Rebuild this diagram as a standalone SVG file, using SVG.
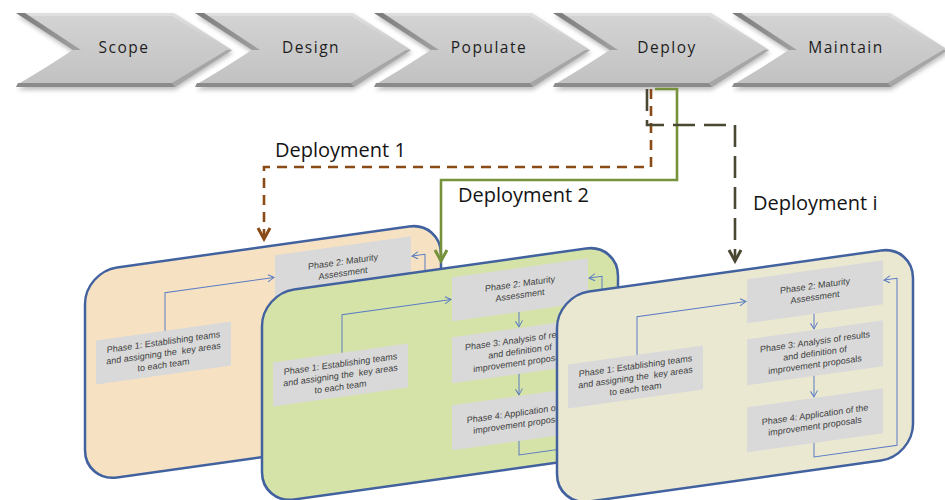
<svg xmlns="http://www.w3.org/2000/svg" xmlns:xlink="http://www.w3.org/1999/xlink" width="945" height="500" viewBox="0 0 945 500">
  <style>
    .step { font-family: "Open Sans", "Liberation Sans", sans-serif; font-size: 15.5px; letter-spacing: 1.5px; fill: #1e1e1e; text-anchor: middle; }
    .lbl { font-family: "Open Sans", "Liberation Sans", sans-serif; font-size: 20px; fill: #141414; }
    .panel { stroke: #41619f; stroke-width: 2.5; }
    .box { fill: #d9d9d9; }
    .ph { font-family: "Liberation Sans", Arial, sans-serif; font-size: 9px; fill: #404040; text-anchor: middle; }
    .flow { fill: none; stroke: #5a7cc4; stroke-width: 1; }
    .dep1 { fill: none; stroke: #8a4b16; stroke-width: 2.6; stroke-dasharray: 10 7; }
    .dep2 { fill: none; stroke: #76933c; stroke-width: 2.6; }
    .depi { fill: none; stroke: #4a4832; stroke-width: 2.6; stroke-dasharray: 22 9; }
  </style>
  <defs>
    <filter id="soft" x="-10%" y="-30%" width="120%" height="170%">
      <feGaussianBlur stdDeviation="2"/>
    </filter>
    <linearGradient id="rim" x1="0" y1="0" x2="0" y2="1">
      <stop offset="0" stop-color="#e0e0e0"/>
      <stop offset="0.5" stop-color="#c9c9c9"/>
      <stop offset="1" stop-color="#a9a9a9"/>
    </linearGradient>
    <linearGradient id="face" x1="0" y1="0" x2="0" y2="1">
      <stop offset="0" stop-color="#d3d3d3"/>
      <stop offset="1" stop-color="#c2c2c2"/>
    </linearGradient>
    <linearGradient id="bevel" x1="0" y1="0" x2="1" y2="0">
      <stop offset="0" stop-color="#7a7a7a"/>
      <stop offset="1" stop-color="#a2a2a2"/>
    </linearGradient>

    <!-- one chevron step of the process bar -->
    <g id="chev">
      <polygon points="0,13 158,13 216,50 158,87 0,87 57,50" transform="translate(1,3)" fill="#8c8c8c" opacity="0.55" filter="url(#soft)"/>
      <polygon points="0,13 158,13 216,50 158,87 0,87 57,50" fill="url(#rim)"/>
      <polygon points="9,16 156,16 211,50 156,83 4,83 59,50" fill="url(#face)"/>
      <polygon points="0,13 9,13 65,50 57,50" fill="url(#bevel)"/>
      <polygon points="2,83 156,83 159,87 0,87" fill="#8b8b8b"/>
      <polygon points="156,83 211,50 216,50 159,87" fill="#a6a6a6"/>
    </g>

    <marker id="headFlow" viewBox="-7 -5 8 10" refX="0" refY="0" markerWidth="8" markerHeight="10" markerUnits="userSpaceOnUse" orient="auto">
      <path d="M-6,-3.5 L0,0 L-6,3.5" fill="none" stroke="#5a7cc4" stroke-width="1"/>
    </marker>
    <marker id="headBrown" viewBox="-14 -9 17 18" refX="0" refY="0" markerWidth="17" markerHeight="18" markerUnits="userSpaceOnUse" orient="auto">
      <path d="M-11,-6 L0,0 L-11,6" fill="none" stroke="#8a4b16" stroke-width="3"/>
    </marker>
    <marker id="headGreen" viewBox="-14 -9 17 18" refX="0" refY="0" markerWidth="17" markerHeight="18" markerUnits="userSpaceOnUse" orient="auto">
      <path d="M-11,-6 L0,0 L-11,6" fill="none" stroke="#76933c" stroke-width="3"/>
    </marker>
    <marker id="headDark" viewBox="-14 -9 17 18" refX="0" refY="0" markerWidth="17" markerHeight="18" markerUnits="userSpaceOnUse" orient="auto">
      <path d="M-11,-6 L0,0 L-11,6" fill="none" stroke="#4a4832" stroke-width="3"/>
    </marker>

    <!-- inner workflow of a deployment panel (local, unskewed coordinates) -->
    <g id="phases">
      <rect class="box" x="190" y="10" width="136" height="44"/>
      <rect class="box" x="190" y="70" width="136" height="46"/>
      <rect class="box" x="190" y="138" width="136" height="45"/>
      <rect class="box" x="11" y="70" width="135" height="44"/>
      <path class="flow" d="M80 70 V32 H189" marker-end="url(#headFlow)"/>
      <path class="flow" d="M257 54 V69" marker-end="url(#headFlow)"/>
      <path class="flow" d="M257 116 V137" marker-end="url(#headFlow)"/>
      <path class="flow" d="M257 183 V197 H340 V30 H327" marker-end="url(#headFlow)"/>
      <text class="ph" x="258" y="29">Phase 2: Maturity</text>
      <text class="ph" x="258" y="40.5">Assessment</text>
      <text class="ph" x="258" y="85">Phase 3: Analysis of results</text>
      <text class="ph" x="258" y="96.5">and definition of</text>
      <text class="ph" x="258" y="108">improvement proposals</text>
      <text class="ph" x="258" y="158">Phase 4: Application of the</text>
      <text class="ph" x="258" y="169.5">improvement proposals</text>
      <text class="ph" x="78.5" y="84">Phase 1: Establishing teams</text>
      <text class="ph" x="78.5" y="95.5" xml:space="preserve">and assigning the  key areas</text>
      <text class="ph" x="78.5" y="107">to each team</text>
    </g>
  </defs>

  <rect width="945" height="500" fill="#ffffff"/>

  <!-- process bar -->
  <g id="step-scope">
    <use xlink:href="#chev" transform="translate(16,0)"/>
    <text class="step" x="124" y="53">Scope</text>
  </g>
  <g id="step-design">
    <use xlink:href="#chev" transform="translate(195,0)"/>
    <text class="step" x="311" y="53">Design</text>
  </g>
  <g id="step-populate">
    <use xlink:href="#chev" transform="translate(374,0)"/>
    <text class="step" x="489" y="53">Populate</text>
  </g>
  <g id="step-deploy">
    <use xlink:href="#chev" transform="translate(553,0)"/>
    <text class="step" x="667" y="53">Deploy</text>
  </g>
  <g id="step-maintain">
    <use xlink:href="#chev" transform="translate(732,0)"/>
    <text class="step" x="846" y="53">Maintain</text>
  </g>

  <!-- deployment panels, drawn back to front -->
  <g id="deployment-1" transform="translate(85,272) skewY(-8)">
    <rect class="panel" width="356" height="210" rx="32" fill="#f6e2c3"/>
    <use xlink:href="#phases"/>
  </g>
  <g id="deployment-2" transform="translate(262,294) skewY(-8)">
    <rect class="panel" width="356" height="210" rx="32" fill="#d6e3a8"/>
    <use xlink:href="#phases"/>
  </g>
  <g id="deployment-i" transform="translate(557,296) skewY(-8)">
    <rect class="panel" width="356" height="210" rx="32" fill="#ebe8d2"/>
    <use xlink:href="#phases"/>
  </g>

  <!-- connectors from the Deploy step to each panel -->
  <g id="connectors">
    <path class="dep1" d="M651 89 V167 H264 V239" marker-end="url(#headBrown)"/>
    <path class="dep2" d="M655 89 H677 V180 H441 V261" marker-end="url(#headGreen)"/>
    <path class="depi" d="M647 89 V125 H735 V261" marker-end="url(#headDark)"/>
  </g>

  <g id="labels">
    <text class="lbl" x="275" y="157">Deployment 1</text>
    <text class="lbl" x="458" y="202">Deployment 2</text>
    <text class="lbl" x="753" y="210">Deployment i</text>
  </g>
</svg>
